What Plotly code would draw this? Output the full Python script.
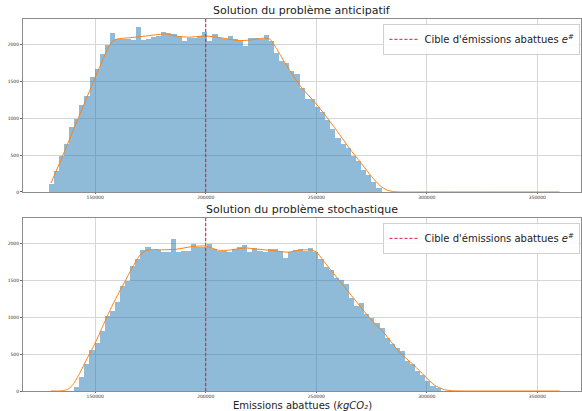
import plotly.graph_objects as go

# ---------------- data ----------------
bin_width_top = 2317
first_edge_top = 128900
hist_top = [108, 279, 481, 652, 873, 990, 1179, 1301, 1562, 1661,
            1864, 1990, 2150, 2067, 2075, 2065, 2060, 2235, 2060, 2070,
            2100, 2116, 2166, 2148, 2134, 2112, 2049, 2080, 2085, 2112,
            2166, 2049, 2134, 2080, 2067, 2116, 2067, 2049, 1981, 2085,
            2085, 2067, 2130, 2044, 1886, 1778, 1742, 1630, 1598, 1405,
            1256, 1256, 1149, 1081, 976, 855, 728, 652, 593, 481,
            423, 301, 233, 134, 54]

bin_width_bot = 2302
first_edge_bot = 140500
hist_bot = [49, 184, 365, 558, 648, 815, 1008, 1085, 1197, 1423,
            1494, 1684, 1787, 1909, 1946, 1901, 1901, 1875, 1880, 2056,
            1875, 1887, 1895, 1990, 1954, 1954, 1990, 1923, 1900, 1900,
            1878, 1923, 1945, 1977, 1874, 1941, 1895, 1878, 1923, 1918,
            1895, 1805, 1878, 1909, 1918, 1900, 1932, 1878, 1783, 1675,
            1639, 1527, 1504, 1445, 1256, 1152, 1189, 1044, 986, 918,
            851, 716, 640, 581, 536, 400, 369, 266, 221, 131, 63, 41]

kde_top_x = [130000, 135000, 140000, 145000, 150000, 153000, 156000, 158000, 160000, 165000,
             170000, 177000, 182000, 186000, 192000, 200000, 207000, 215000, 220000, 226000,
             229000, 232000, 236000, 242600, 250000, 255000, 260000, 265000, 270000, 275000,
             279000, 282000, 285000, 288000, 300000, 320000, 340000, 360000]
kde_top_y = [120, 470, 830, 1190, 1550, 1760, 1960, 2040, 2070, 2085,
             2100, 2125, 2138, 2112, 2094, 2110, 2085, 2048, 2055, 2080,
             2068, 1940, 1740, 1440, 1190, 1000, 800, 590, 400, 210,
             80, 25, 5, 0, 0, 0, 0, 0]

kde_bot_x = [130000, 134000, 136000, 138000, 140000, 143000, 146000, 150000, 153000, 156800,
             160000, 163600, 167000, 170300, 173000, 176000, 180000, 186700, 194200, 200000,
             205700, 210200, 217700, 223000, 228200, 233000, 237200, 242500, 247000, 250000,
             253800, 257000, 260500, 267300, 274100, 280800, 287600, 294300, 298800, 303400,
             307900, 312000, 316000, 330000, 345000, 360000]
kde_bot_y = [0, 0, 8, 30, 90, 240, 420, 650, 850, 1100,
             1290, 1490, 1680, 1840, 1900, 1915, 1910, 1918, 1955, 1960,
             1905, 1905, 1935, 1920, 1905, 1890, 1878, 1905, 1910, 1880,
             1740, 1620, 1490, 1240, 990, 780, 525, 345, 210, 80,
             18, 3, 0, 0, 0, 0]

target = 200000
x_ticks = [150000, 200000, 250000, 300000, 350000]
y_ticks = [0, 500, 1000, 1500, 2000]
title_top = "Solution du problème anticipatif"
title_bot = "Solution du problème stochastique"
x_title = "Emissions abattues (<i>kgCO₂</i>)"
legend_label = "Cible d'émissions abattues <i>e</i><sup>#</sup>"

# ---------------- figure ----------------
FONT = "DejaVu Sans"
BAR = "rgba(31,119,180,0.5)"
KDE = "#ff7f0e"
VLINE = "#dc143c"
YMAX = 2340

fig = go.Figure()

def add_panel(hist, first_edge, width, kx, ky, xa, ya, legend):
    centers = [first_edge + width * (i + 0.5) for i in range(len(hist))]
    fig.add_trace(go.Bar(x=centers, y=hist, width=[width] * len(hist),
                         marker=dict(color=BAR, line=dict(width=0)),
                         showlegend=False, xaxis=xa, yaxis=ya, hoverinfo="skip"))
    fig.add_trace(go.Scatter(x=kx, y=ky, mode="lines",
                             line=dict(color=KDE, width=1, shape="spline", smoothing=0.6),
                             showlegend=False, xaxis=xa, yaxis=ya))
    fig.add_trace(go.Scatter(x=[target, target], y=[0, YMAX], mode="lines",
                             line=dict(color=VLINE, width=1, dash="3px,2px"),
                             name=legend_label, showlegend=True, legend=legend,
                             xaxis=xa, yaxis=ya))

add_panel(hist_top, first_edge_top, bin_width_top, kde_top_x, kde_top_y, "x", "y", "legend")
add_panel(hist_bot, first_edge_bot, bin_width_bot, kde_bot_x, kde_bot_y, "x2", "y2", "legend2")

ax_common = dict(range=[117340, 369740], tickvals=x_ticks, ticktext=[str(v) for v in x_ticks],
                 showgrid=True, gridcolor="#d6d6d6", gridwidth=1, zeroline=False,
                 showline=True, linecolor="#8c8c8c", linewidth=1, mirror=True,
                 ticks="outside", ticklen=1, tickcolor="#666",
                 tickfont=dict(family=FONT, size=4.5, color="#333"))
ay_common = dict(range=[0, YMAX], tickvals=y_ticks, ticktext=[str(v) for v in y_ticks],
                 showgrid=True, gridcolor="#d6d6d6", gridwidth=1, zeroline=False,
                 showline=True, linecolor="#8c8c8c", linewidth=1, mirror=True,
                 ticks="outside", ticklen=2, tickcolor="#666",
                 tickfont=dict(family=FONT, size=4.5, color="#333"))

top_dom = [0.535, 1.0]
bot_dom = [0.0, 0.465]

leg_common = dict(xanchor="right", x=0.999, yanchor="top",
                  bgcolor="rgba(255,255,255,0.85)", bordercolor="#d0d0d0", borderwidth=1,
                  font=dict(family=FONT, size=10, color="#222"),
                  itemwidth=30, tracegroupgap=0)

fig.update_layout(
    width=582, height=411,
    margin=dict(l=23, r=1, t=19, b=20),
    paper_bgcolor="white", plot_bgcolor="white",
    font=dict(family=FONT, color="#222"),
    bargap=0,
    xaxis=dict(domain=[0, 1], anchor="y", **ax_common),
    yaxis=dict(domain=top_dom, anchor="x", **ay_common),
    xaxis2=dict(domain=[0, 1], anchor="y2", **ax_common),
    yaxis2=dict(domain=bot_dom, anchor="x2", **ay_common),
    legend=dict(y=0.987, **leg_common),
    legend2=dict(y=0.452, **leg_common),
    annotations=[
        dict(text=title_top, x=0.5, y=top_dom[1], xref="paper", yref="paper",
             xanchor="center", yanchor="bottom", showarrow=False,
             font=dict(family=FONT, size=11, color="#222")),
        dict(text=title_bot, x=0.5, y=bot_dom[1], xref="paper", yref="paper",
             xanchor="center", yanchor="bottom", showarrow=False,
             font=dict(family=FONT, size=11, color="#222")),
        dict(text=x_title, x=0.5, y=0, xref="paper", yref="paper",
             xanchor="center", yanchor="top", yshift=-8, borderpad=0, showarrow=False,
             font=dict(family=FONT, size=10, color="#222")),
    ],
)

fig.write_html("out.html")
